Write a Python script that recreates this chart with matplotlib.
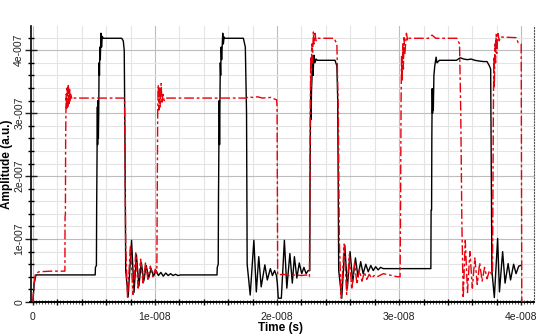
import numpy as np
import matplotlib
matplotlib.use("Agg")
import matplotlib.pyplot as plt
from matplotlib.ticker import MultipleLocator, FixedLocator, FixedFormatter

# ---- data: (time in ns, amplitude in units of 1e-7 a.u.) ----
black_points = [
    (0.0, 0.0), (0.1, 0.3), (0.25, 0.43), (5.1, 0.43), (5.12, 0.55), (5.2, 0.58), (5.22, 1.5),
    (5.25, 2.4), (5.28, 3.1), (5.3, 2.5), (5.33, 3.2), (5.36, 2.6), (5.39, 3.0), (5.42, 3.8),
    (5.45, 3.6), (5.48, 4.05), (5.52, 3.85), (5.57, 4.27), (5.62, 4.05), (5.68, 4.22), (5.75, 4.19),
    (7.27, 4.19), (7.4, 4.15), (7.48, 4.0), (7.54, 2.5), (7.6, 0.5), (7.8, 0.08), (8.08, 0.98),
    (8.28, 0.15), (8.48, 0.75), (8.68, 0.25), (8.88, 0.63), (9.08, 0.33), (9.28, 0.58), (9.48, 0.38),
    (9.68, 0.53), (9.88, 0.41), (10.08, 0.5), (10.28, 0.42), (10.48, 0.47), (10.68, 0.41),
    (10.88, 0.46), (11.08, 0.42), (11.28, 0.45), (11.48, 0.42), (11.68, 0.44), (11.88, 0.42),
    (12.08, 0.43),
    (15.08, 0.43), (15.1, 0.55), (15.18, 0.6), (15.2, 1.6), (15.23, 2.4), (15.26, 3.2), (15.29, 2.5),
    (15.32, 3.1), (15.35, 3.8), (15.38, 3.6), (15.42, 4.05), (15.46, 3.85), (15.55, 4.27),
    (15.6, 4.1), (15.66, 4.21), (15.72, 4.19), (17.24, 4.19), (17.4, 4.05), (17.5, 3.0),
    (17.55, 0.6), (17.8, 0.11), (18.1, 0.98), (18.3, 0.16), (18.5, 0.72), (18.7, 0.24), (19.0, 0.59),
    (19.2, 0.35), (19.45, 0.53), (19.62, 0.42), (19.8, 0.5), (19.95, 0.42), (20.02, 0.3),
    (20.1, 0.06), (20.35, 0.06), (20.6, 0.98), (20.8, 0.22), (21.05, 0.77), (21.25, 0.3),
    (21.42, 0.72), (21.62, 0.38), (21.82, 0.62), (22.02, 0.45), (22.2, 0.55), (22.38, 0.45),
    (22.55, 0.5), (22.68, 0.5),
    (22.7, 1.8), (22.73, 2.8), (22.76, 3.44), (22.79, 2.9), (22.82, 3.35), (22.86, 3.55),
    (22.9, 3.9), (22.95, 3.6), (22.99, 3.8), (23.03, 3.92), (23.1, 3.8), (23.2, 3.86), (23.3, 3.84),
    (24.75, 3.84), (24.9, 3.75), (24.97, 3.2), (25.05, 0.5), (25.3, 0.06), (25.55, 0.9),
    (25.76, 0.22), (25.98, 0.8), (26.2, 0.32), (26.42, 0.7), (26.63, 0.4), (26.85, 0.64),
    (27.05, 0.45), (27.27, 0.6), (27.47, 0.48), (27.68, 0.58), (27.88, 0.5), (28.08, 0.56),
    (28.28, 0.51), (28.48, 0.55), (28.7, 0.53), (32.6, 0.53),
    (32.62, 1.46), (32.66, 1.46), (32.68, 2.6), (32.71, 3.39), (32.74, 3.0), (32.77, 3.35),
    (32.8, 3.05), (32.85, 3.6), (32.92, 3.75), (33.03, 3.89), (33.1, 3.8), (33.3, 3.84),
    (34.7, 3.84), (35.0, 3.88), (35.3, 3.86), (35.6, 3.85), (35.9, 3.86), (36.2, 3.84),
    (36.5, 3.83), (36.9, 3.82), (37.2, 3.82), (37.4, 3.75), (37.5, 3.7), (37.55, 2.0), (37.6, 0.5),
    (37.8, 0.07), (38.07, 1.01), (38.22, 0.16), (38.48, 0.8), (38.68, 0.3), (38.93, 0.61),
    (39.13, 0.35), (39.38, 0.6), (39.58, 0.45), (39.8, 0.57), (39.96, 0.58),
]

red_points = [
    (0.0, 0.0), (0.05, 0.2), (0.2, 0.45), (0.5, 0.48), (1.5, 0.49), (2.62, 0.49), (2.63, 1.35),
    (2.66, 1.4), (2.68, 2.6), (2.72, 3.3), (2.76, 3.05), (2.8, 3.4), (2.85, 3.1), (2.9, 3.44),
    (2.95, 3.15), (3.0, 3.38), (3.05, 3.18), (3.1, 3.3), (3.2, 3.22), (3.3, 3.24), (7.5, 3.24),
    (7.54, 2.5), (7.6, 0.9), (7.75, 0.05), (7.98, 0.88), (8.2, 0.12), (8.42, 0.78), (8.62, 0.22),
    (8.82, 0.68), (9.02, 0.3), (9.22, 0.62), (9.42, 0.36), (9.62, 0.57), (9.82, 0.4), (10.02, 0.52),
    (10.12, 0.46), (10.15, 0.47),
    (10.18, 1.5), (10.22, 3.0), (10.27, 3.45), (10.32, 3.05), (10.37, 3.4), (10.43, 3.1),
    (10.5, 3.47), (10.57, 3.15), (10.65, 3.3), (10.75, 3.2), (10.9, 3.24), (17.5, 3.24),
    (17.65, 3.26), (18.0, 3.25), (18.4, 3.26), (18.8, 3.24), (19.5, 3.25), (19.97, 3.21),
    (20.0, 3.1), (20.05, 0.43), (20.5, 0.44), (21.0, 0.42), (21.5, 0.43), (22.0, 0.42),
    (22.4, 0.43), (22.55, 0.4), (22.65, 0.4),
    (22.68, 1.5), (22.72, 3.0), (22.76, 3.9), (22.8, 3.4), (22.85, 4.1), (22.9, 3.8), (22.97, 4.29),
    (23.03, 4.1), (23.1, 4.27), (23.2, 4.15), (23.3, 4.19), (24.67, 4.19), (24.9, 4.1), (25.02, 3.0),
    (25.1, 1.0), (25.25, 0.06), (25.5, 0.92), (25.7, 0.12), (25.92, 0.75), (26.12, 0.2),
    (26.35, 0.62), (26.55, 0.28), (26.75, 0.52), (26.95, 0.33), (27.15, 0.47), (27.35, 0.36),
    (27.55, 0.44), (27.75, 0.38), (27.95, 0.42), (28.2, 0.4), (28.7, 0.45), (29.2, 0.43),
    (29.6, 0.41), (29.95, 0.4), (30.08, 0.4),
    (30.12, 1.6), (30.16, 3.2), (30.2, 3.9), (30.25, 3.5), (30.3, 4.1), (30.35, 3.7), (30.4, 4.2),
    (30.47, 3.95), (30.6, 4.27), (30.7, 4.15), (30.8, 4.19), (32.4, 4.19), (32.7, 4.24),
    (33.0, 4.19), (34.73, 4.19), (34.95, 4.1), (35.05, 3.0), (35.14, 1.27), (35.25, 0.06),
    (35.42, 0.98), (35.6, 0.15), (35.8, 0.8), (36.0, 0.22), (36.2, 0.7), (36.4, 0.28), (36.6, 0.62),
    (36.8, 0.33), (37.0, 0.55), (37.2, 0.37), (37.4, 0.5), (37.58, 0.44), (37.65, 0.46),
    (37.68, 1.6), (37.72, 3.0), (37.76, 3.9), (37.8, 3.4), (37.85, 4.1), (37.9, 3.8), (37.95, 4.25),
    (38.0, 3.95), (38.08, 4.29), (38.2, 4.15), (38.3, 4.21), (39.6, 4.2), (39.75, 4.12),
    (40.0, 4.1), (40.05, 0.0), (41.05, 0.0),
]

x_ticks = [0.0, 1e-8, 2e-8, 3e-8, 4e-8]
x_labels = ["0", "1e-008", "2e-008", "3e-008", "4e-008"]
y_ticks = [0.0, 1e-7, 2e-7, 3e-7, 4e-7]
y_labels = ["0", "1e-007", "2e-007", "3e-007", "4e-007"]

plt.rcParams['font.family'] = ['Liberation Sans', 'DejaVu Sans']

fig = plt.figure(figsize=(5.6, 3.34), dpi=100)
ax = fig.add_axes([30.5 / 560, (334 - 302.3) / 334, (534 - 30.5) / 560, (302.3 - 26) / 334])

bt = np.array([p[0] for p in black_points]) * 1e-9
ba = np.array([p[1] for p in black_points]) * 1e-7
rt = np.array([p[0] for p in red_points]) * 1e-9
ra = np.array([p[1] for p in red_points]) * 1e-7

ax.plot(bt, ba, color='black', lw=1.0, zorder=4)
ax.plot(rt, ra, color='#e8000b', lw=1.0, dashes=(7, 2, 2, 2), zorder=5)

ax.set_xlim(-0.2e-9, 41.05e-9)
ax.set_ylim(-0.005e-7, 4.385e-7)

ax.xaxis.set_major_locator(FixedLocator(x_ticks))
ax.xaxis.set_major_formatter(FixedFormatter(x_labels))
ax.xaxis.set_minor_locator(MultipleLocator(2e-9))
ax.yaxis.set_major_locator(FixedLocator(y_ticks))
ax.yaxis.set_major_formatter(FixedFormatter(y_labels))
ax.yaxis.set_minor_locator(MultipleLocator(0.2e-7))

ax.grid(which='major', color='#bdbdbd', lw=0.8, zorder=0)
ax.grid(which='minor', color='#e4e4e4', lw=0.8, zorder=0)
ax.set_axisbelow(True)

ax.tick_params(axis='y', which='major', direction='inout', length=8, width=1, pad=0.5,
               labelsize=7.5, labelrotation=90, colors='#202020')
ax.tick_params(axis='y', which='minor', direction='inout', length=5, width=1)
for lab in ax.get_yticklabels():
    lab.set_va('center')
ax.tick_params(axis='x', which='major', direction='inout', length=5, width=1, pad=4.7,
               labelsize=7.5, colors='#202020')
ax.tick_params(axis='x', which='minor', direction='inout', length=4, width=1)

# fine hatch on the time axis
sec = ax.secondary_xaxis('bottom')
sec.xaxis.set_major_locator(MultipleLocator(0.25e-9))
sec.tick_params(direction='inout', length=2.2, width=0.6, labelbottom=False, color='#333333')
sec.spines['bottom'].set_linewidth(1.2)

ax.spines['top'].set_visible(False)
ax.spines['right'].set_linestyle(':')
ax.spines['right'].set_color('#555555')
ax.spines['left'].set_linewidth(1.2)
ax.spines['bottom'].set_linewidth(1.2)

ax.set_xlabel("Time (s)", fontsize=8.5, fontweight='bold')
ax.set_ylabel("Amplitude (a.u.)", fontsize=8.5, fontweight='bold')
ax.xaxis.set_label_coords(0.4975, -0.071)
ax.yaxis.set_label_coords(-0.035, 0.5)

fig.savefig("out.png", dpi=100)
